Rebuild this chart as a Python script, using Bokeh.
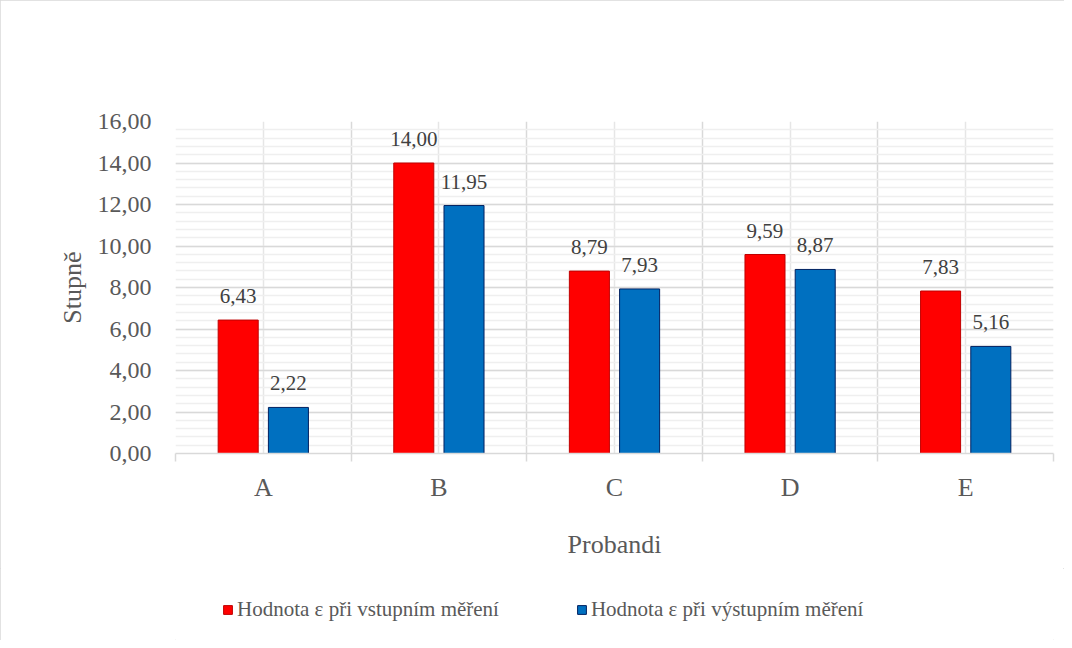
import numpy as np
from bokeh.plotting import figure
from bokeh.layouts import column
from bokeh.models import (ColumnDataSource, Range1d, FixedTicker, LabelSet, Legend,
                          LegendItem)
from bokeh.embed import file_html
from bokeh.resources import INLINE

# ---- data ----
categories = ["A", "B", "C", "D", "E"]
vstup = [6.43, 14.00, 8.79, 9.59, 7.83]
vystup = [2.22, 11.95, 7.93, 8.87, 5.16]
y_ticks = [0, 2, 4, 6, 8, 10, 12, 14, 16]
series_names = ["Hodnota ε při vstupním měření", "Hodnota ε při výstupním měření"]

FONT = "Liberation Serif"
GREY = "#595959"
RED, RED_LINE = "#FF0000", "#C00000"
BLUE, BLUE_LINE = "#0070C0", "#002060"

centers = np.arange(len(categories)) + 0.5
off = 0.143
bw = 0.228

def fmt(v):
    return f"{v:.2f}".replace(".", ",")

src_r = ColumnDataSource(dict(x=centers - off, top=vstup, lab=[fmt(v) for v in vstup]))
src_b = ColumnDataSource(dict(x=centers + off, top=vystup, lab=[fmt(v) for v in vystup]))

W = 1064
p = figure(width=W, height=568, output_backend="svg", toolbar_location=None,
           x_range=Range1d(0, len(categories)), y_range=Range1d(0, 16),
           min_border_left=175, min_border_right=W - 1053, min_border_top=121,
           min_border_bottom=115)
p.outline_line_color = None
p.background_fill_color = "white"
p.border_fill_color = "white"

p.vbar(x="x", top="top", width=bw, source=src_r, fill_color=RED, line_color=RED_LINE, line_width=1)
p.vbar(x="x", top="top", width=bw, source=src_b, fill_color=BLUE, line_color=BLUE_LINE, line_width=1)

# labels
for src in (src_r, src_b):
    p.add_layout(LabelSet(x="x", y="top", text="lab", source=src, text_align="center",
                          text_baseline="alphabetic", y_offset=17, text_font=FONT,
                          text_font_size="21px", text_color="#404040"))

# y axis
yt = FixedTicker(ticks=y_ticks, minor_ticks=list(np.round(np.arange(0, 16.01, 0.4), 2)))
p.yaxis.ticker = yt
p.yaxis.major_label_overrides = {t: fmt(t) for t in y_ticks}
p.yaxis.axis_line_color = None
p.yaxis.major_tick_line_color = None
p.yaxis.minor_tick_line_color = None
p.yaxis.major_label_text_font = FONT
p.yaxis.major_label_text_font_size = "24px"
p.yaxis.major_label_text_color = GREY
p.yaxis.major_label_standoff = 18
p.yaxis.axis_label = "Stupně"
p.yaxis.axis_label_text_font = FONT
p.yaxis.axis_label_text_font_size = "26px"
p.yaxis.axis_label_text_font_style = "normal"
p.yaxis.axis_label_text_color = GREY
p.yaxis.axis_label_standoff = 8

p.ygrid.ticker = yt
p.ygrid.grid_line_color = "#D9D9D9"
p.ygrid.grid_line_width = 1.5
p.ygrid.minor_grid_line_color = "#EFEFEF"
p.ygrid.minor_grid_line_width = 1.5

# x axis
xt = FixedTicker(ticks=list(centers), minor_ticks=list(range(len(categories) + 1)))
p.xaxis.ticker = xt
p.xaxis.major_label_overrides = {float(c): cat for c, cat in zip(centers, categories)}
p.xaxis.axis_line_color = "#D9D9D9"
p.xaxis.axis_line_width = 1.5
p.xaxis.major_tick_line_color = None
p.xaxis.major_tick_out = 0
p.xaxis.major_tick_in = 0
p.xaxis.minor_tick_line_color = "#D9D9D9"
p.xaxis.minor_tick_line_width = 1.5
p.xaxis.minor_tick_out = 8
p.xaxis.minor_tick_in = 0
p.xaxis.major_label_text_font = FONT
p.xaxis.major_label_text_font_size = "26px"
p.xaxis.major_label_text_color = GREY
p.xaxis.major_label_standoff = 11
p.xaxis.axis_label = "Probandi"
p.xaxis.axis_label_text_font = FONT
p.xaxis.axis_label_text_font_size = "26px"
p.xaxis.axis_label_text_font_style = "normal"
p.xaxis.axis_label_text_color = GREY
p.xaxis.axis_label_standoff = 25

p.xgrid.ticker = xt
p.xgrid.grid_line_color = "#E6E6E6"
p.xgrid.grid_line_width = 1.5
p.xgrid.minor_grid_line_color = "#D9D9D9"
p.xgrid.minor_grid_line_width = 1.5

# legend strip (separate figure below the chart)
lf = figure(width=W, height=72, output_backend="svg", toolbar_location=None,
            x_range=Range1d(0, 1), y_range=Range1d(0, 1),
            x_axis_location=None, y_axis_location=None, min_border=0)
lf.outline_line_color = None
lf.grid.visible = False
lr = lf.vbar(x=[5], top=[0], width=0.1, fill_color=RED, line_color=RED_LINE, line_width=1)
lb = lf.vbar(x=[5], top=[0], width=0.1, fill_color=BLUE, line_color=BLUE_LINE, line_width=1)
legend = Legend(items=[LegendItem(label=series_names[0], renderers=[lr]),
                       LegendItem(label=series_names[1], renderers=[lb])],
                orientation="horizontal", location=(47, 18))
legend.glyph_width = 11
legend.glyph_height = 11
legend.label_standoff = 4
legend.spacing = 77
legend.padding = 0
legend.margin = 0
legend.border_line_color = None
legend.background_fill_alpha = 0
legend.label_text_font = FONT
legend.label_text_font_size = "21px"
legend.label_text_color = GREY
lf.add_layout(legend, "center")

layout = column(p, lf, spacing=0,
                styles={"outline": "1px solid #D9D9D9", "outline-offset": "-1px"})
open("out.html", "w").write(file_html(layout, INLINE))
